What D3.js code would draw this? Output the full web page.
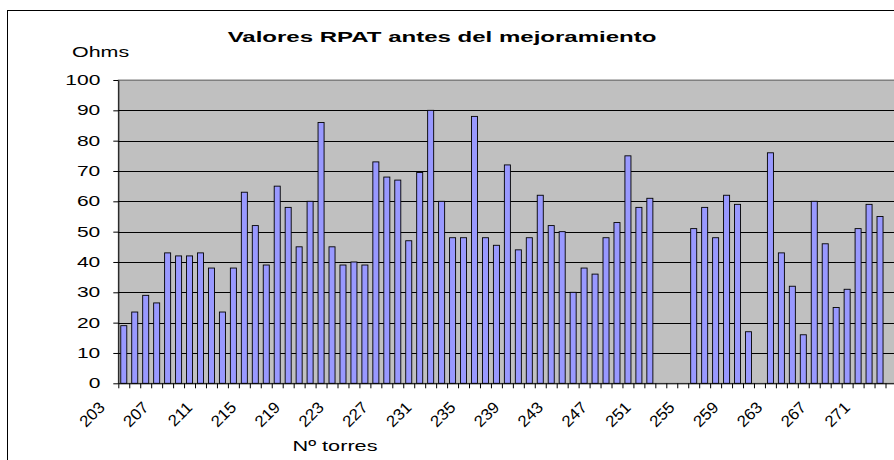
<!DOCTYPE html>
<html>
<head>
<meta charset="utf-8">
<script src="https://cdn.jsdelivr.net/npm/d3@7"></script>
<style>
  body { margin: 0; background: #fff; }
  text { font-family: "Liberation Sans", Arial, sans-serif; }
</style>
</head>
<body>
<div id="chart"></div>
<script>
// datos del grafico: torres 203 a 273, null = sin medicion
const torres = d3.range(203, 274);
const ohms = [
  19, 23.5, 29, 26.5, 43, 42, 42, 43, 38, 23.5,
  38, 63, 52, 39, 65, 58, 45, 60, 86, 45,
  39, 40, 39, 73, 68, 67, 47, 69.5, 90, 60,
  48, 48, 88, 48, 45.5, 72, 44, 48, 62, 52,
  50, 30, 38, 36, 48, 53, 75, 58, 61, null,
  null, null, 51, 58, 48, 62, 59, 17, null, 76,
  43, 32, 16, 60, 46, 25, 31, 51, 59, 55,
  null
];
const yTicks = [0, 10, 20, 30, 40, 50, 60, 70, 80, 90, 100];
const xLabels = torres.filter((d, i) => i % 4 === 0);

const W = 894, H = 460;
const plotLeft = 118.3, plotTop = 80, plotBottom = 383.3;
const step = 10.96;
const plotRight = plotLeft + step * torres.length;

const svg = d3.select("#chart").append("svg")
  .attr("width", W).attr("height", H);

svg.append("rect").attr("width", W).attr("height", H).attr("fill", "#fff");

// marco del grafico (sale por la derecha y por abajo)
svg.append("rect")
  .attr("x", 7.5).attr("y", 10.5)
  .attr("width", 1000).attr("height", 1000)
  .attr("fill", "none").attr("stroke", "#000");

const x = d3.scaleBand().domain(torres).range([plotLeft, plotRight])
  .paddingInner(0.45).paddingOuter(0.225);
const xt = d3.scaleLinear().domain([0, torres.length]).range([plotLeft, plotRight]);
const y = d3.scaleLinear().domain([0, 100]).range([plotBottom, plotTop]);

// area de trazado
svg.append("rect")
  .attr("x", plotLeft).attr("y", plotTop)
  .attr("width", plotRight - plotLeft).attr("height", plotBottom - plotTop)
  .attr("fill", "#c0c0c0").attr("stroke", "#808080");

// lineas de division
svg.append("g").selectAll("line")
  .data(yTicks.filter(d => d > 0))
  .join("line")
  .attr("x1", plotLeft).attr("x2", plotRight)
  .attr("y1", d => Math.round(y(d)) + 0.5).attr("y2", d => Math.round(y(d)) + 0.5)
  .attr("stroke", d => d === 100 ? "#808080" : "#000");

// barras
svg.append("g").selectAll("rect")
  .data(torres.map((t, i) => ({ t, v: ohms[i] })).filter(d => d.v !== null))
  .join("rect")
  .attr("x", d => x(d.t))
  .attr("y", d => y(d.v))
  .attr("width", x.bandwidth())
  .attr("height", d => y(0) - y(d.v))
  .attr("fill", "#9999ff")
  .attr("stroke", "#000")
  .attr("stroke-width", 0.9);

// eje y
const yAxis = svg.append("g")
  .attr("transform", `translate(${plotLeft},0)`)
  .call(d3.axisLeft(y).tickValues(yTicks).tickSize(5).tickSizeOuter(0));
yAxis.select(".domain").attr("stroke", "#000");
yAxis.selectAll("line").attr("stroke", "#000");
yAxis.selectAll("text")
  .attr("x", -12)
  .attr("transform", "scale(1.5,1)")
  .style("font-size", "14px")
  .attr("fill", "#000");

// eje x
const xAxis = svg.append("g")
  .attr("transform", `translate(0,${plotBottom})`)
  .call(d3.axisBottom(xt).tickValues(d3.range(torres.length + 1)).tickSize(5).tickSizeOuter(0).tickFormat(""));
xAxis.select(".domain").attr("stroke", "#000");
xAxis.selectAll("line").attr("stroke", "#000");

svg.append("g").selectAll("text")
  .data(xLabels)
  .join("text")
  .attr("transform", d => `translate(${x(d) + x.bandwidth() / 2 - 18},${plotBottom + 25}) rotate(-45) scale(1.05,1)`)
  .attr("text-anchor", "end")
  .style("font-size", "16px")
  .text(d => d);

// titulos
svg.append("text")
  .attr("transform", "translate(442,42) scale(1.55,1)")
  .attr("text-anchor", "middle")
  .style("font-size", "15.5px")
  .style("font-weight", "bold")
  .text("Valores RPAT antes del mejoramiento");

svg.append("text")
  .attr("transform", "translate(72,57) scale(1.43,1)")
  .style("font-size", "15px")
  .text("Ohms");

svg.append("text")
  .attr("transform", "translate(335,450.5) scale(1.4,1)")
  .attr("text-anchor", "middle")
  .style("font-size", "15.5px")
  .text("Nº torres");
</script>
</body>
</html>
